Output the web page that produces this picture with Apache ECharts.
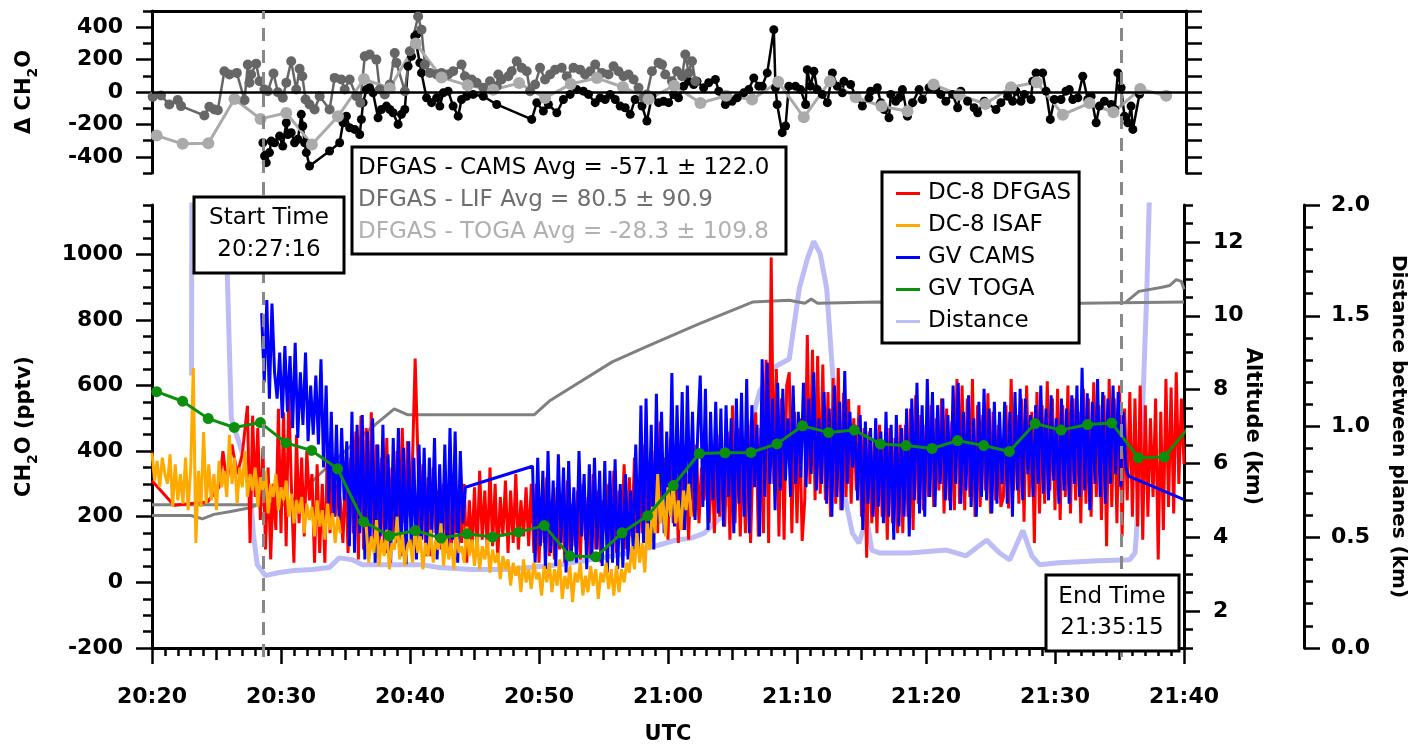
<!DOCTYPE html>
<html>
<head>
<meta charset="utf-8">
<script src="https://cdn.jsdelivr.net/npm/echarts@6/dist/echarts.min.js"></script>
<style>
  html, body { margin: 0; padding: 0; background: #fff; }
  #chart { width: 1416px; height: 750px; }
</style>
</head>
<body>
<div id="chart"></div>
<script>
// ---------------------------------------------------------------
// Time is expressed in minutes after 20:20 UTC.
// ---------------------------------------------------------------
const timeTickLabels = ['20:20', '20:30', '20:40', '20:50', '21:00', '21:10', '21:20', '21:30', '21:40'];
const ch2oTicks = [-200, 0, 200, 400, 600, 800, 1000];
const diffTicks = [-400, -200, 0, 200, 400];
const altitudeTicks = [2, 4, 6, 8, 10, 12];
const distanceTicks = [0, 0.5, 1, 1.5, 2];

const startMin = 8.63;            // comparison window start
const endMin = 75.0;              // comparison window end
const startLabel = '20:27:16';
const endLabel = '21:35:15';
const statsLines = [
  'DFGAS - CAMS Avg = -57.1 \u00b1 122.0',
  'DFGAS - LIF Avg = 80.5 \u00b1 90.9',
  'DFGAS - TOGA Avg = -28.3 \u00b1 109.8'
];

// instrument sampling interval for the fast CH2O records (min)
const sampleStep = 0.2;

// ---------- DC-8 DFGAS (pptv) ----------
const dfgasSparse = [[0, 310], [1.7, 235], [4.3, 245], [5.2, 290], [5.5, 400], [5.8, 300], [6.2, 420], [6.6, 330], [7.0, 390]];
const dfgasStart = 7.4;
const dfgasValues = [
  538, 120, 508, 260, 470, 190, 410, 100, 350, 70, 300, 160, 529, 150, 518, 110, 570,
  300, 60, 450, 180, 380, 140, 400, 250, 330, 60, 360, 90, 300, 60, 420, 150, 380, 200, 300,
  250, 120, 330, 90, 380, 150, 460, 70, 508, 100, 470, 80, 518, 130, 420, 90, 380, 120, 440, 110,
  350, 150, 400, 120, 470, 180, 430, 200, 380, 682, 400,
  140, 360, 110, 320, 80, 350, 150, 280, 100, 300, 130, 260, 90, 330, 70, 280, 120, 300, 60, 250,
  100, 290, 80, 340, 130, 280, 90, 350, 110, 300, 70, 260, 140, 310, 90, 280, 120, 330, 100, 250,
  140, 290, 110, 300,
  90, 300, 60, 260, 120, 320, 80, 250, 70, 290, 100, 270, 60, 310, 90, 240, 110, 280, 70, 300,
  130, 260, 80, 330, 100, 280, 60, 250,
  150, 300, 110, 340, 90, 280, 130, 360, 100, 320, 140, 380, 120, 300, 150, 420, 130, 350, 170, 400,
  150, 490, 200, 380, 130, 440, 180, 350, 120, 400, 160, 330, 130, 380, 200, 420, 180, 350,
  250, 420, 180, 380, 150, 450, 200, 400, 170, 460, 130, 539, 180, 470, 140, 430, 150, 480, 120, 400,
  518, 140, 470, 150, 678, 120, 990, 300, 650, 140, 560, 130, 600, 640, 150, 520, 180, 500,
  126, 250, 754, 300, 709, 250, 690, 270, 664, 250, 580, 200, 623, 240, 653, 220, 578, 260, 559, 240,
  500, 280, 540, 200, 470, 75, 460, 180, 430, 150, 480, 200, 420, 130, 470, 180, 440, 150, 480,
  150, 480, 200, 530, 160, 570, 240, 510, 220, 480, 260, 540, 230, 500, 280, 560, 210, 530, 250, 490,
  220, 620, 240, 600, 220, 560, 260, 620, 200, 540, 230, 510, 280, 576, 210, 520, 250, 480, 230,
  260, 540, 225, 620, 280, 510, 240, 560, 185, 600, 260, 520, 120, 580, 210, 540, 240, 613, 280, 560,
  220, 590, 190, 540, 260, 600, 210, 560, 250, 520, 180, 590, 240, 560, 200, 610, 260, 540, 190, 570,
  110, 620, 230, 560, 180, 600, 140, 530, 250, 580, 200, 560, 170, 600, 130, 540, 200, 500, 260, 560,
  70, 520, 160, 620, 230, 594, 210, 640, 300, 560, 360
];

// ---------- DC-8 ISAF (pptv), two records separated by a data gap ----------
const isafStartA = 0;
const isafValuesA = [
  395, 310, 370, 290, 380, 330, 300, 390, 230, 360, 250, 330, 240, 380, 220, 350,
  653, 120, 340, 230, 458, 240,
  360, 250, 330, 220, 370, 290, 340, 260, 450, 300, 380, 240, 350, 290, 400, 260, 330, 280,
  350, 230, 320, 280, 340, 210, 300, 260, 330, 220, 290, 250, 310, 200,
  270, 180, 250, 210, 260, 150, 240, 190, 230, 140, 250, 170, 220, 130, 240, 160, 210, 120, 200, 150
];
const isafGapAt = 15.6;
const isafStartB = 16.6;
const isafValuesB = [
  170, 60, 140, 90, 190, 50, 130, 80, 160, 40, 120, 100, 200, 70, 150, 50, 110, 130, 60, 170,
  90, 140, 40, 120, 80, 160, 60, 130, 100, 180, 50, 140, 70, 120, 40, 150, 90, 110, 60, 170,
  80, 130, 50,
  140, 40, 110, 70, 130, 30, 100, 60, 90, 10, 80, 40, 70, -10, 60, 20, 50, -30, 70, 0, 40, -20, 60, 10, 30,
  -40, 50, 0, 60, -30, 40, -10, 70, -50, 20, -20, 50, -60, 30, 0, 60, -40, 20, -30, 50,
  -10, 40, -50, 30, 0, 60, -20, 40, -40, 50,
  -30, 40, 0, 60, 30, 110, 40, 150, 60, 120, 30, 180, 100, 230, 150, 330, 180, 260, 140, 290,
  200, 310, 180, 250, 160, 280, 220, 300, 200
];

// ---------- GV CAMS (pptv) ----------
const camsStartA = 8.5;
const camsValuesA = [
  820, 610, 860, 560, 850, 640,
  560, 700, 500, 720, 520, 690,
  470, 730, 440, 640, 480, 700, 430, 600, 450, 630, 420,
  680, 350, 600, 240, 520, 200, 480, 190, 470, 250, 430,
  110, 520, 90, 480, 150, 510, 70, 460, 120, 500, 60, 420, 140, 480, 90, 390, 60, 440, 120, 470,
  80, 410, 55, 430, 100, 380, 70, 420,
  130, 410, 80, 380, 150, 440, 70, 360, 110, 420, 90, 470, 130, 460, 60, 400, 180, 290
];
const camsStartB = 29.5;
const camsValuesB = [
  354, 60, 380, 110, 340, 40, 400, 90, 310, 50, 390, 120, 350, 30, 370, 80, 290, 60, 400, 140,
  330, 40, 360, 70, 380, 100, 340,
  50, 370, 30, 340, 60, 375, 40, 300, 45, 330, 70, 280, 100, 420, 90, 539, 120, 560, 150, 480,
  100, 575, 180, 520, 150, 460, 200, 638, 170, 540, 220, 580, 160, 600, 250, 520, 190, 450,
  630, 230, 590, 160, 520, 250, 550, 210, 530, 170, 540, 260, 500, 150, 560, 240, 578, 200, 620, 150,
  540, 290, 480, 140, 680, 260, 670, 300, 560, 220, 608, 280, 590, 310, 500, 260, 600, 300, 520,
  320, 608, 290, 560, 330, 640, 280, 500, 300, 580, 240, 530, 200, 600, 260, 550, 220, 644, 300, 520,
  350, 480, 250, 510, 160, 490, 240, 470, 200, 500, 230, 460, 180, 520, 200, 480, 130, 510, 170,
  470, 200, 530, 140, 560, 250, 608, 210, 540, 200, 620, 260, 580, 230, 540, 300, 560, 250, 510, 220,
  600, 300, 608, 240, 520, 280, 570, 230, 500, 200, 550, 260, 590, 250, 530, 210, 550, 240, 520,
  300, 550, 240, 520, 200, 580, 280, 590, 250, 560, 330, 510, 260, 540, 300, 600, 270, 530, 250, 570,
  310, 500, 240, 560, 280, 530, 240, 570, 300, 600, 260, 654, 280, 576, 220, 550, 300, 620, 260, 580,
  240, 560, 300, 600, 330, 580, 290, 520, 350, 324
];
const camsTail = [[80, 252]];

// ---------- GV TOGA (pptv) ----------
const togaTimes = [0.36, 2.37, 4.36, 6.38, 8.40, 10.39, 12.37, 14.39, 16.40, 18.40, 20.41, 22.40, 24.42, 26.40,
  28.40, 30.41, 32.40, 34.42, 36.43, 38.42, 40.41, 42.43, 44.42, 46.43, 48.45, 50.43, 52.45, 54.44,
  56.46, 58.45, 60.47, 62.45, 64.47, 66.46, 68.45, 70.47, 72.53, 74.39, 76.46, 78.47, 80.5];
const togaValues = [581, 552, 499, 472, 487, 425, 402, 346, 185, 142, 158, 135, 148, 138, 153, 173, 80, 78,
  151, 203, 295, 393, 395, 396, 422, 477, 457, 464, 422, 417, 408, 432, 417, 399, 484, 464, 481, 486,
  380, 382, 479];

// ---------- Altitude (km) ----------
const altitudeDC8 = [[0, 4.88], [10.5, 4.88], [11.97, 5.35], [12.97, 5.70], [16.3, 6.76], [18.78, 7.48],
  [19.79, 7.32], [29.64, 7.32], [30.8, 7.69], [35.68, 8.75], [38.55, 9.20], [42.4, 9.78], [46.55, 10.37],
  [49.4, 10.42], [50.6, 10.34], [51.1, 10.45], [51.6, 10.34], [56.2, 10.37], [72.0, 10.34], [80, 10.37]];
const altitudeGV = [[0, 4.59], [3.0, 4.59], [3.9, 4.50], [4.8, 4.62], [6.0, 4.69], [7.6, 4.80], [8.2, 4.88],
  [40, '-'],
  [75.5, 10.37], [76.5, 10.66], [78.3, 10.77], [78.9, 10.82], [79.4, 10.98], [79.8, 10.93], [80, 10.72]];

// ---------- Distance between planes (km) ----------
const distance = [[3.06, 1.23], [3.12, 2.6], [5.62, 2.6], [5.84, 1.68], [6.15, 1.035], [7.54, 0.783],
  [7.85, 0.518], [8.16, 0.376], [8.78, 0.327], [9.87, 0.341], [11.03, 0.35], [12.43, 0.354], [13.74, 0.363],
  [14.52, 0.407], [15.53, 0.398], [16.3, 0.376], [18.4, 0.376], [20.95, 0.376], [22.27, 0.363], [24.8, 0.354],
  [27.47, 0.354], [31.57, 0.376], [36.2, 0.42], [39.3, 0.465], [40.6, 0.487], [41.8, 0.496], [42.8, 0.518],
  [43.98, 0.584], [45.15, 0.739], [46.2, 0.96], [47.1, 1.159], [48.3, 1.27], [49.4, 1.305], [50.18, 1.624],
  [50.8, 1.757], [51.3, 1.836], [51.8, 1.779], [52.3, 1.624], [52.74, 1.257], [53.3, 0.814], [53.9, 0.628],
  [54.3, 0.518], [54.8, 0.473], [55.4, 0.584], [55.8, 0.442], [56.4, 0.429], [58.7, 0.429], [61.6, 0.442],
  [63.1, 0.416], [64.7, 0.487], [65.7, 0.429], [66.5, 0.398], [67.5, 0.531], [68.2, 0.416], [68.8, 0.376],
  [70.3, 0.385], [73.4, 0.394], [75.77, 0.398], [76.2, 0.429], [76.3, 0.504], [76.5, 0.739], [76.8, 1.093],
  [77.1, 1.58], [77.3, 2.0], [77.6, 2.6]];

// ---------- Differences (pptv) ----------
const diffCams = [[8.58, -313], [8.71, -395], [8.84, -436], [9.09, -374], [9.22, -303], [9.48, -313], [9.87, -272],
  [10.12, -334], [10.39, -190], [10.51, -262], [10.77, -251], [11.03, -313], [11.29, -292], [11.55, -138],
  [11.67, -210], [11.81, -313], [11.94, -374], [12.19, -457], [13.74, -364], [14.52, -313], [14.78, -190],
  [15.04, -149], [15.29, -221], [15.68, -231], [16.07, -262], [16.20, -169], [16.33, -66], [16.59, 15],
  [16.84, 26], [17.10, -5], [17.49, -159], [17.75, -108], [18.14, -87], [18.40, -108], [18.65, -128],
  [19.04, -200], [19.30, -138], [19.56, -108], [19.81, 159], [20.08, 220], [20.33, 343], [20.47, 354],
  [20.72, 180], [20.85, 118], [21.24, -36], [21.63, -66], [22.02, -36], [22.27, -87], [22.53, -5], [22.91, 5],
  [23.30, -87], [23.69, -149], [23.95, -46], [24.34, -26], [24.85, -15], [25.63, -26], [26.67, -77],
  [29.38, -169], [29.77, -66], [30.28, -118], [30.67, -77], [31.32, -128], [31.83, -46], [32.35, -15],
  [32.87, 15], [33.38, 5], [33.77, -15], [34.29, -66], [34.67, -36], [35.06, -46], [35.45, -15], [35.84, -46],
  [36.22, -87], [36.61, -97], [37.00, -138], [37.38, -46], [37.91, -87], [38.29, -179], [38.68, -26],
  [39.19, -66], [39.58, -57], [39.97, -66], [40.36, -15], [40.74, -36], [41.13, 36], [41.52, 66], [41.91, 46],
  [42.17, 66], [42.68, 26], [43.07, 57], [43.59, 77], [43.85, 5], [44.36, -77], [44.88, -57], [45.27, -36],
  [45.78, -5], [46.17, 15], [46.56, 87], [46.95, 36], [47.21, 36], [47.60, 118], [48.11, 385], [48.24, 26],
  [48.37, -77], [48.76, -251], [49.02, -210], [49.27, 36], [49.79, 36], [50.18, 15], [50.57, -77], [50.70, 138],
  [50.95, 36], [51.21, 128], [51.47, 15], [51.86, -15], [52.25, -66], [52.64, 118], [53.02, 36], [53.41, -5],
  [53.54, 66], [54.05, 46], [54.44, -26], [54.96, -87], [55.47, -36], [55.60, 5], [56.12, 26], [56.38, -66],
  [56.64, -108], [57.02, -159], [57.16, -15], [57.54, -57], [57.80, -36], [58.06, 15], [58.45, -149],
  [58.84, -66], [59.35, 15], [59.61, -46], [60.12, 26], [60.64, 15], [61.03, -15], [61.42, -57], [61.94, -15],
  [62.33, -97], [62.58, 5], [63.10, -57], [63.61, -97], [63.88, -128], [64.39, -57], [65.30, -108],
  [65.68, -66], [66.20, -26], [66.59, -57], [66.84, 5], [67.23, -57], [67.49, -15], [68.01, -46], [68.14, 66],
  [68.40, 118], [68.91, 118], [69.17, 5], [69.50, -169], [69.81, -46], [70.33, -46], [70.71, 5], [70.97, 15],
  [71.24, -46], [71.63, -36], [72.01, 97], [72.40, -46], [72.66, -26], [73.05, -190], [73.30, -87],
  [73.69, -57], [74.22, -77], [74.48, -108], [74.73, 118], [74.98, 26], [75.24, -149], [75.50, -190],
  [75.75, -87], [75.89, -231], [76.40, -15]];

const diffLif = [[0.05, -30], [0.70, -22], [1.34, -77], [1.99, -50], [2.25, -87], [4.05, -145], [4.44, -91],
  [4.83, -108], [5.09, -112], [5.60, 128], [5.99, 108], [6.56, 118], [7.16, -50], [7.41, 169], [7.54, 57],
  [7.67, 108], [8.06, 175], [8.32, 66], [8.70, 15], [8.96, 5], [9.40, 114], [9.74, -1], [10.12, -36],
  [10.39, 57], [10.77, 190], [11.16, 15], [11.42, 143], [11.63, 97], [11.88, -46], [12.19, -77],
  [12.58, -108], [12.97, -26], [13.74, -108], [14.13, 87], [14.65, 77], [14.91, 15], [15.29, 77],
  [15.81, -26], [16.12, -66], [16.46, 220], [16.84, 231], [17.36, 200], [17.62, 15], [18.01, -15],
  [18.40, 46], [18.78, 241], [18.91, 180], [19.56, 5], [19.95, 251], [20.59, 466], [20.85, 385],
  [21.11, 169], [21.50, 118], [22.02, 108], [22.40, 118], [22.91, 108], [23.30, 128], [23.95, 169],
  [24.21, 97], [24.73, 77], [25.12, 57], [25.63, 26], [26.15, 66], [26.67, 36], [26.79, 108], [27.05, 77],
  [27.57, 97], [27.83, 128], [28.22, 190], [28.60, 149], [28.99, 128], [29.25, 5], [29.64, 46], [30.02, 149],
  [30.41, 77], [30.80, 108], [31.19, 138], [31.70, 149], [32.09, 97], [32.61, 149], [33.12, 138],
  [33.51, 108], [33.90, 128], [34.29, 169], [34.81, 118], [35.32, 108], [35.71, 159], [36.09, 128],
  [36.48, 97], [36.87, 108], [37.26, 77], [37.64, 26], [38.03, -36], [38.29, -15], [38.68, 128],
  [39.19, 180], [39.46, 169], [39.71, 108], [40.23, 66], [40.62, 128], [41.01, 97], [41.26, 231],
  [41.52, 118], [41.78, 190], [42.04, 66]];

const diffTogaValues = [-269, -320, -316, -43, -166, -129, -324, -150, 80, 23, 300, 90, 41, 14, 55, -37, 49, 86,
  31, -43, 39, -68, -23, -47, 63, -156, 66, -33, -88, -119, 46, -17, -74, 29, 60, -140, -68, -125, 18, -23];

// ---------------------------------------------------------------
// Build series data
// ---------------------------------------------------------------
function sampled(start, values) {
  return values.map((v, i) => [+(start + i * sampleStep).toFixed(2), v]);
}
const dfgasData = dfgasSparse.concat(sampled(dfgasStart, dfgasValues));
const isafData = sampled(isafStartA, isafValuesA).concat([[isafGapAt, '-']], sampled(isafStartB, isafValuesB));
const camsData = sampled(camsStartA, camsValuesA).concat(sampled(camsStartB, camsValuesB), camsTail);
const togaData = togaTimes.map((t, i) => [t, togaValues[i]]);
const diffTogaData = diffTogaValues.map((v, i) => [togaTimes[i], v]);

// ---------------------------------------------------------------
// Styling helpers
// ---------------------------------------------------------------
const FONT = 'DejaVu Sans';
const BLACK = '#000';
const tickLabel = { fontFamily: FONT, fontSize: 22, fontWeight: 'bold', color: BLACK };
const nameStyle = { fontFamily: FONT, fontSize: 21, fontWeight: 'bold', color: BLACK };
const lineAxis = { show: true, onZero: false, lineStyle: { color: BLACK, width: 3 } };
const noLine = { show: false, onZero: false };
const plainNumber = v => String(v);
const subRich = {
  t: { fontFamily: FONT, fontSize: 21, fontWeight: 'bold', color: BLACK },
  s: { fontFamily: FONT, fontSize: 14, fontWeight: 'bold', color: BLACK, padding: [16, 0, 0, 0] }
};

function tickOnlyAxis(grid, position, min, max, interval, length, offset) {
  return {
    type: 'value', gridIndex: grid, position: position, offset: offset || 0,
    min: min, max: max, interval: interval,
    axisLine: noLine,
    axisTick: { show: true, length: length, lineStyle: { color: BLACK, width: 2.5 } },
    axisLabel: { show: false }, splitLine: { show: false }
  };
}

const chart = echarts.init(document.getElementById('chart'), null, { renderer: 'canvas' });

const option = {
  animation: false,
  backgroundColor: '#fff',
  grid: [
    { left: 152, right: 230, top: 11, height: 162 },
    { left: 152, right: 230, top: 205, height: 452 },
    { left: 152, right: 230, top: 11, height: 646 }
  ],
  xAxis: [
    { // top panel frame line
      type: 'value', gridIndex: 0, position: 'top', min: 0, max: 80,
      axisLine: lineAxis, axisTick: { show: false }, axisLabel: { show: false }, splitLine: { show: false }
    },
    { // time axis with labels
      type: 'value', gridIndex: 1, position: 'bottom', min: 0, max: 80, interval: 10,
      axisLine: lineAxis,
      axisTick: { show: true, length: 16, lineStyle: { color: BLACK, width: 2.5 } },
      axisLabel: Object.assign({ margin: 38, formatter: v => timeTickLabels[Math.round(v / 10)] }, tickLabel),
      splitLine: { show: false },
      name: 'UTC', nameLocation: 'middle', nameGap: 76, nameMoveOverlap: false, nameTextStyle: nameStyle
    },
    tickOnlyAxis(1, 'bottom', 0, 80, 5, 12),
    tickOnlyAxis(1, 'bottom', 0, 80, 1, 8),
    { type: 'value', gridIndex: 2, min: 0, max: 80, show: false }
  ],
  yAxis: [
    { // 0: difference axis, labelled
      type: 'value', gridIndex: 0, position: 'left', min: -500, max: 500,
      axisLine: lineAxis,
      axisTick: { show: true, length: 16, customValues: diffTicks, lineStyle: { color: BLACK, width: 2.5 } },
      axisLabel: Object.assign({ margin: 29, customValues: diffTicks, formatter: plainNumber }, tickLabel),
      splitLine: { show: false },
      name: '{t|\u0394 CH}{s|2}{t|O}', nameLocation: 'middle', nameRotate: 90, nameGap: 112,
      nameMoveOverlap: false, nameTextStyle: { rich: subRich }
    },
    tickOnlyAxis(0, 'left', -500, 500, 100, 9),            // 1
    Object.assign(tickOnlyAxis(0, 'right', -500, 500, 100, 16), { axisLine: lineAxis }), // 2
    { // 3: CH2O
      type: 'value', gridIndex: 1, position: 'left', min: -200, max: 1150,
      axisLine: lineAxis,
      axisTick: { show: true, length: 16, customValues: ch2oTicks, lineStyle: { color: BLACK, width: 2.5 } },
      axisLabel: Object.assign({ margin: 29, customValues: ch2oTicks, formatter: plainNumber }, tickLabel),
      splitLine: { show: false },
      name: '{t|CH}{s|2}{t|O (pptv)}', nameLocation: 'middle', nameRotate: 90, nameGap: 112,
      nameMoveOverlap: false, nameTextStyle: { rich: subRich }
    },
    tickOnlyAxis(1, 'left', -200, 1150, 50, 9),             // 4
    { // 5: altitude
      type: 'value', gridIndex: 1, position: 'right', min: 1, max: 13,
      axisLine: lineAxis,
      axisTick: { show: true, length: 16, customValues: altitudeTicks, lineStyle: { color: BLACK, width: 2.5 } },
      axisLabel: Object.assign({ margin: 29, customValues: altitudeTicks, formatter: plainNumber }, tickLabel),
      splitLine: { show: false },
      name: 'Altitude (km)', nameLocation: 'middle', nameRotate: -90, nameGap: 58,
      nameMoveOverlap: false, nameTextStyle: nameStyle
    },
    tickOnlyAxis(1, 'right', 1, 13, 0.5, 9),                // 6
    { // 7: distance
      type: 'value', gridIndex: 1, position: 'right', offset: 120, min: 0, max: 2,
      axisLine: lineAxis,
      axisTick: { show: true, length: 16, customValues: distanceTicks, lineStyle: { color: BLACK, width: 2.5 } },
      axisLabel: Object.assign({ margin: 27, customValues: distanceTicks, formatter: v => v.toFixed(1) }, tickLabel),
      splitLine: { show: false },
      name: 'Distance between planes (km)', nameLocation: 'middle', nameRotate: -90, nameGap: 84,
      nameMoveOverlap: false, nameTextStyle: Object.assign({}, nameStyle, { fontSize: 20 })
    },
    tickOnlyAxis(1, 'right', 0, 2, 0.1, 9, 120),            // 8
    { type: 'value', gridIndex: 2, min: 0, max: 1, show: false } // 9
  ],
  legend: {
    left: 882, top: 172, orient: 'vertical',
    backgroundColor: '#fff', borderColor: BLACK, borderWidth: 3, borderRadius: 0,
    padding: [10, 8, 10, 14], itemGap: 9, itemWidth: 24, itemHeight: 3,
    selectedMode: false,
    textStyle: { fontFamily: FONT, fontSize: 23, color: BLACK, padding: [0, 0, 0, 3] },
    data: [
      { name: 'DC-8 DFGAS', icon: 'rect' },
      { name: 'DC-8 ISAF', icon: 'rect' },
      { name: 'GV CAMS', icon: 'rect' },
      { name: 'GV TOGA', icon: 'rect' },
      { name: 'Distance', icon: 'rect' }
    ]
  },
  series: [
    // ---- top panel ----
    {
      name: 'DFGAS - CAMS', type: 'line', xAxisIndex: 0, yAxisIndex: 0, data: diffCams, silent: true,
      color: '#000', symbol: 'circle', symbolSize: 9, showSymbol: true,
      lineStyle: { width: 2.5, color: '#000' }, itemStyle: { color: '#000' },
      markLine: {
        silent: true, symbol: ['none', 'none'], label: { show: false },
        lineStyle: { color: '#000', width: 2.5, type: 'solid' }, data: [{ yAxis: 0 }]
      }
    },
    {
      name: 'DFGAS - LIF', type: 'line', xAxisIndex: 0, yAxisIndex: 0, data: diffLif, silent: true,
      color: '#666', symbol: 'circle', symbolSize: 10, showSymbol: true,
      lineStyle: { width: 2.5, color: '#666' }, itemStyle: { color: '#666' }
    },
    {
      name: 'DFGAS - TOGA', type: 'line', xAxisIndex: 0, yAxisIndex: 0, data: diffTogaData, silent: true,
      color: '#aaa', symbol: 'circle', symbolSize: 12, showSymbol: true,
      lineStyle: { width: 3, color: '#aaa' }, itemStyle: { color: '#aaa' }
    },
    // ---- bottom panel ----
    {
      name: 'Distance', type: 'line', xAxisIndex: 1, yAxisIndex: 7, data: distance, silent: true,
      color: '#bcbcf6', showSymbol: false, symbol: 'none', lineStyle: { width: 5, color: '#bcbcf6' }
    },
    {
      name: 'Altitude DC-8', type: 'line', xAxisIndex: 1, yAxisIndex: 5, data: altitudeDC8, silent: true,
      color: '#808080', symbol: 'none', lineStyle: { width: 3, color: '#808080' }
    },
    {
      name: 'Altitude GV', type: 'line', xAxisIndex: 1, yAxisIndex: 5, data: altitudeGV, silent: true,
      color: '#808080', symbol: 'none', lineStyle: { width: 3, color: '#808080' }
    },
    {
      name: 'DC-8 DFGAS', type: 'line', xAxisIndex: 1, yAxisIndex: 3, data: dfgasData, silent: true,
      color: '#ff0000', symbol: 'none', lineStyle: { width: 3, color: '#ff0000' }
    },
    {
      name: 'GV CAMS', type: 'line', xAxisIndex: 1, yAxisIndex: 3, data: camsData, silent: true,
      color: '#0000ff', symbol: 'none', lineStyle: { width: 3, color: '#0000ff' }
    },
    {
      name: 'DC-8 ISAF', type: 'line', xAxisIndex: 1, yAxisIndex: 3, data: isafData, silent: true,
      color: '#ffaa00', symbol: 'none', lineStyle: { width: 3, color: '#ffaa00' }
    },
    {
      name: 'GV TOGA', type: 'line', xAxisIndex: 1, yAxisIndex: 3, data: togaData, silent: true,
      color: '#0c8f0c', symbol: 'circle', symbolSize: 11, showSymbol: true,
      lineStyle: { width: 3, color: '#0c8f0c' }, itemStyle: { color: '#0c8f0c' }
    },
    // ---- comparison window markers spanning both panels ----
    {
      name: 'window', type: 'line', xAxisIndex: 4, yAxisIndex: 9, data: [], silent: true,
      markLine: {
        silent: true, symbol: ['none', 'none'], label: { show: false },
        lineStyle: { color: '#888', width: 3, type: [13, 9] },
        data: [{ xAxis: startMin }, { xAxis: endMin }]
      }
    }
  ],
  graphic: [
    // statistics box
    { type: 'rect', z: 100, shape: { x: 352, y: 147, width: 434, height: 107 },
      style: { fill: '#fff', stroke: BLACK, lineWidth: 3 } },
    { type: 'text', z: 101, style: { x: 358, y: 168, text: statsLines[0], fontFamily: FONT, fontSize: 23, fill: '#000', align: 'left', verticalAlign: 'middle' } },
    { type: 'text', z: 101, style: { x: 358, y: 200, text: statsLines[1], fontFamily: FONT, fontSize: 23, fill: '#6e6e6e', align: 'left', verticalAlign: 'middle' } },
    { type: 'text', z: 101, style: { x: 358, y: 232, text: statsLines[2], fontFamily: FONT, fontSize: 23, fill: '#b0b0b0', align: 'left', verticalAlign: 'middle' } },
    // start time box
    { type: 'rect', z: 100, shape: { x: 194, y: 197, width: 150, height: 76 },
      style: { fill: '#fff', stroke: BLACK, lineWidth: 3 } },
    { type: 'text', z: 101, style: { x: 269, y: 218, text: 'Start Time', fontFamily: FONT, fontSize: 23, fill: '#000', align: 'center', verticalAlign: 'middle' } },
    { type: 'text', z: 101, style: { x: 269, y: 250, text: startLabel, fontFamily: FONT, fontSize: 23, fill: '#000', align: 'center', verticalAlign: 'middle' } },
    // end time box
    { type: 'rect', z: 100, shape: { x: 1046, y: 575, width: 133, height: 76 },
      style: { fill: '#fff', stroke: BLACK, lineWidth: 3 } },
    { type: 'text', z: 101, style: { x: 1112, y: 597, text: 'End Time', fontFamily: FONT, fontSize: 23, fill: '#000', align: 'center', verticalAlign: 'middle' } },
    { type: 'text', z: 101, style: { x: 1112, y: 628, text: endLabel, fontFamily: FONT, fontSize: 23, fill: '#000', align: 'center', verticalAlign: 'middle' } }
  ]
};

chart.setOption(option);
</script>
</body>
</html>
